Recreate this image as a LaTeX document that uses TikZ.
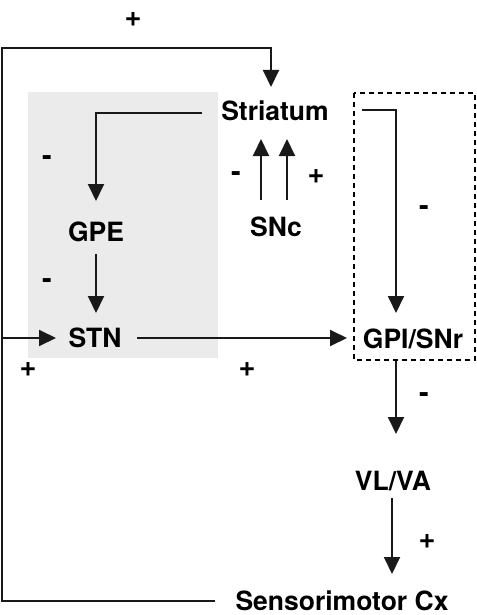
\documentclass[tikz,border=0pt]{standalone}
\usepackage{fontspec}
\setmainfont{TeX Gyre Heros}
\usetikzlibrary{arrows.meta}
\begin{document}
\begin{tikzpicture}[x=1pt,y=-1pt,
  lbl/.style={font=\fontsize{26.5}{28}\selectfont\bfseries,inner sep=0pt},
  sgn/.style={font=\fontsize{29}{30}\selectfont\bfseries,inner sep=0pt},
  conn/.style={line width=1.9pt,black!90},
  arr/.style={conn,-{Triangle[width=16pt,length=17pt]}}]
\useasboundingbox (0,0) rectangle (476,615);
% shaded and dashed regions
\fill[black!8] (28,92) rectangle (218,358);
\draw[line width=1.6pt,dash pattern=on 5pt off 4pt] (354,93) rectangle (475,360);
% nodes
\node[lbl] (str) at (275,111) {Striatum};
\node[lbl] (gpe) at (96,232) {GPE};
\node[lbl] (snc) at (276,227) {SNc};
\node[lbl] (stn) at (95,338) {STN};
\node[lbl] (gpi) at (413,339) {GPI/SNr};
\node[lbl] (vl) at (393,481) {VL/VA};
\node[lbl] (cx) at (342,601) {Sensorimotor Cx};
% helper coordinates
\coordinate (cxL) at (215,601);
\coordinate (botL) at (2,601);
\coordinate (topL) at (2,48);
\coordinate (topR) at (271,48);
\coordinate (strIn) at (271,87);
\coordinate (stnSrc) at (2,338);
\coordinate (stnIn) at (56,338);
\coordinate (strL) at (202,113);
\coordinate (gpeC) at (96,113);
\coordinate (gpeIn) at (96,201);
\coordinate (gpeOut) at (96,254);
\coordinate (stnTop) at (96,313);
\coordinate (strR) at (362,110);
\coordinate (gpiC) at (396,110);
\coordinate (gpiIn) at (396,313);
\coordinate (stnR) at (137,338);
\coordinate (gpiL) at (347,338);
\coordinate (gpiOut) at (396,361);
\coordinate (vlIn) at (396,434);
\coordinate (vlOut) at (392,498);
\coordinate (cxIn) at (392,574);
\coordinate (sncA1) at (261,200);
\coordinate (sncA2) at (261,139);
\coordinate (sncB1) at (287,200);
\coordinate (sncB2) at (287,139);
% connectors
\draw[arr] (cxL) -- (botL) -- (topL) -- (topR) -- (strIn);
\draw[arr] (stnSrc) -- (stnIn);
\draw[arr] (strL) -- (gpeC) -- (gpeIn);
\draw[arr] (gpeOut) -- (stnTop);
\draw[arr] (strR) -- (gpiC) -- (gpiIn);
\draw[arr] (stnR) -- (gpiL);
\draw[arr] (gpiOut) -- (vlIn);
\draw[arr] (vlOut) -- (cxIn);
\draw[arr] (sncA1) -- (sncA2);
\draw[arr] (sncB1) -- (sncB2);
% signs
\node[sgn] (p1) at (133,20) {+};
\node[sgn] (m1) at (47,161) {-};
\node[sgn] (m2) at (236,177) {-};
\node[sgn] (p2) at (316,177) {+};
\node[sgn] (m3) at (424,211) {-};
\node[sgn] (m4) at (47,284) {-};
\node[sgn] (p3) at (28,370) {+};
\node[sgn] (p4) at (247,370) {+};
\node[sgn] (m5) at (424,398) {-};
\node[sgn] (p5) at (427,542) {+};
\end{tikzpicture}
\end{document}
